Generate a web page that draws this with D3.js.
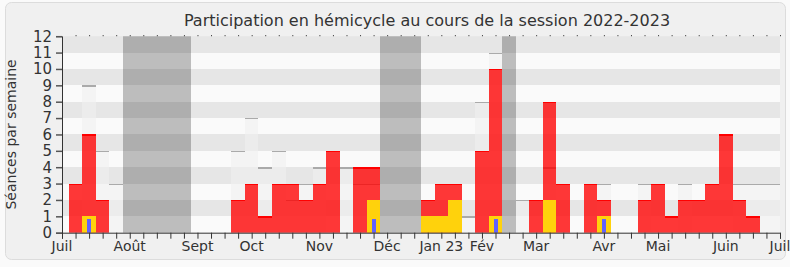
<!DOCTYPE html>
<html><head><meta charset="utf-8">
<script src="https://cdn.jsdelivr.net/npm/d3@7/dist/d3.min.js"></script>
<style>
body{margin:0;background:#fafafa;}
svg{display:block;font-family:"DejaVu Sans",Verdana,sans-serif;}
</style>
</head><body><svg id="c" width="790" height="267"></svg>
<script>
// ---- data (one value per week, week 0 = first week of July 2022) ----
const weeks = d3.range(0, 54);
const presence      = [0,3,6,2,0, 0,0,0,0,0, 0,0,0,2,3, 1,3,3,2,3, 5,0,4,4,0, 0,0,2,3,3, 0,5,10,0,0, 2,8,3,0,3, 2,0,0,2,3, 1,2,2,3,6, 2,1,0,0];
const median        = [0,0,9,5,3, 0,0,0,0,0, 0,0,0,5,7, 4,5,2,3,4, 0,4,3,3,0, 0,0,0,0,0, 1,8,11,0,2, 0,4,0,0,0, 3,0,0,3,0, 0,3,0,0,0, 3,3,3,3];
const participation = [0,0,1,0,0, 0,0,0,0,0, 0,0,0,0,0, 0,0,0,0,0, 0,0,0,2,0, 0,0,1,1,2, 0,0,1,0,0, 0,2,0,0,0, 1,0,0,0,0, 0,0,0,0,0, 0,0,0,0];
const questions     = [0,0,0.85,0,0, 0,0,0,0,0, 0,0,0,0,0, 0,0,0,0,0, 0,0,0,0.85,0, 0,0,0,0,0, 0,0,0.85,0,0, 0,0,0,0,0, 0.85,0,0,0,0, 0,0,0,0,0, 0,0,0,0];
const holidayWeeks  = [5,6,7,8,9,24,25,26,33];
const monthLabels = ["Juil","Août","Sept","Oct","Nov","Déc","Jan 23","Fév","Mar","Avr","Mai","Juin","Juil"];
const monthWeeks  = [0,5,10,14,19,24,28,31,35,40,44,49,53];
const yTicks = d3.range(0, 13);
const title = "Participation en hémicycle au cours de la session 2022-2023";
const yTitle = "Séances par semaine";

// ---- layout ----
const L = 62, R = 780, T = 36.2, B = 232.7;
const svg = d3.select("#c");
const x = d3.scaleLinear().domain([0, 53]).range([L, R]);
const y = d3.scaleLinear().domain([0, 12]).range([B, T]);
const bx0 = w => Math.round(x(w - 0.5));
const bx1 = w => Math.round(x(w + 0.5));

// frame
svg.append("rect").attr("x", 5.5).attr("y", 2.5).attr("width", 780).attr("height", 257)
  .attr("rx", 6).attr("fill", "#f0f0f0").attr("stroke", "#dcdcdc");

svg.append("defs").append("clipPath").attr("id", "plot")
  .append("rect").attr("x", L).attr("y", T).attr("width", R - L).attr("height", B - T);
const g = svg.append("g").attr("clip-path", "url(#plot)").attr("shape-rendering", "crispEdges");

// stripes
g.selectAll("rect.band").data(d3.range(0, 12)).join("rect")
  .attr("x", L).attr("width", R - L)
  .attr("y", d => y(d + 1)).attr("height", d => y(d) - y(d + 1))
  .attr("fill", d => d % 2 ? "#e6e6e6" : "#fafafa");

// holidays
g.selectAll("rect.hol").data(holidayWeeks).join("rect")
  .attr("x", bx0).attr("width", w => bx1(w) - bx0(w))
  .attr("y", T).attr("height", B - T)
  .attr("fill", "rgba(0,0,0,0.245)");

// median
const med = weeks.filter(w => median[w] > 0);
g.selectAll("rect.med").data(med).join("rect")
  .attr("x", bx0).attr("width", w => bx1(w) - bx0(w))
  .attr("y", w => y(median[w])).attr("height", w => B - y(median[w]))
  .attr("fill", "rgba(240,240,240,0.6)");
g.selectAll("rect.medtop").data(med).join("rect")
  .attr("x", bx0).attr("width", w => bx1(w) - bx0(w))
  .attr("y", w => y(median[w])).attr("height", 1.4)
  .attr("fill", "#aaaaaa");

// presence
const pres = weeks.filter(w => presence[w] > 0);
g.selectAll("rect.pres").data(pres).join("rect")
  .attr("x", bx0).attr("width", w => bx1(w) - bx0(w))
  .attr("y", w => y(presence[w])).attr("height", w => B - y(presence[w]))
  .attr("fill", "rgba(255,0,0,0.78)");
g.selectAll("rect.prestop").data(pres).join("rect")
  .attr("x", bx0).attr("width", w => bx1(w) - bx0(w))
  .attr("y", w => y(presence[w])).attr("height", 1.4)
  .attr("fill", "#ff0000");

// participation
const part = weeks.filter(w => participation[w] > 0);
g.selectAll("rect.part").data(part).join("rect")
  .attr("x", bx0).attr("width", w => bx1(w) - bx0(w))
  .attr("y", w => y(participation[w])).attr("height", w => B - y(participation[w]))
  .attr("fill", "#ffd20c");

// questions
const q = weeks.filter(w => questions[w] > 0);
g.selectAll("rect.q").data(q).join("rect")
  .attr("x", w => Math.round(x(w)) - 2).attr("width", 4)
  .attr("y", w => y(questions[w])).attr("height", w => B - y(questions[w]))
  .attr("fill", "#6262ff");

// axes
const xAxis = svg.append("g").attr("transform", `translate(0,${B})`)
  .call(d3.axisBottom(x).tickValues(weeks).tickSize(6).tickFormat(""));
xAxis.select(".domain").attr("stroke", "#333");
xAxis.selectAll(".tick line").attr("stroke", "#333");

const xTop = svg.append("g").attr("transform", `translate(0,${T})`)
  .call(d3.axisTop(x).tickValues(weeks.slice(1)).tickSize(1).tickFormat(""));
xTop.select(".domain").remove();
xTop.selectAll(".tick line").attr("stroke", "#222");

svg.append("g").selectAll("text").data(monthWeeks).join("text")
  .attr("x", d => x(d)).attr("y", 251)
  .attr("text-anchor", "middle").attr("font-size", 14).attr("fill", "#333")
  .text((d, i) => monthLabels[i]);

const yAxis = svg.append("g").attr("transform", `translate(${L},0)`)
  .call(d3.axisLeft(y).tickValues(yTicks).tickSize(6).tickPadding(4));
yAxis.select(".domain").attr("stroke", "#333");
yAxis.selectAll(".tick line").attr("stroke", "#555").attr("stroke-width", 1.5);
yAxis.selectAll(".tick text").attr("font-size", 15).attr("fill", "#333")
  .attr("font-family", '"DejaVu Sans",sans-serif');

svg.append("text").attr("transform", `translate(16,${(T + B) / 2}) rotate(-90)`)
  .attr("text-anchor", "middle").attr("font-size", 14).attr("fill", "#333").text(yTitle);

svg.append("text").attr("x", 427).attr("y", 26).attr("text-anchor", "middle")
  .attr("font-size", 16).attr("fill", "#333").text(title);
</script>
</body></html>
